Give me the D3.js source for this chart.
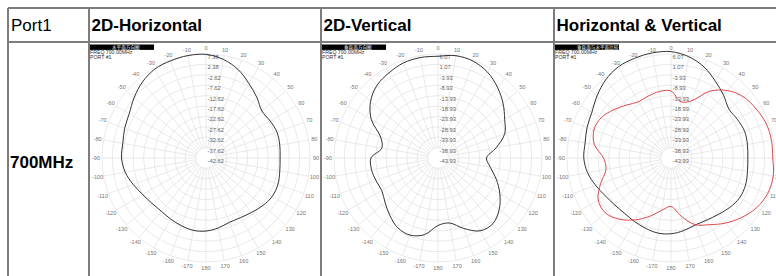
<!DOCTYPE html>
<html>
<head>
<meta charset="utf-8">
<script src="https://cdn.jsdelivr.net/npm/d3@7"></script>
<style>
  html, body { margin: 0; padding: 0; background: #fff; }
  svg { display: block; }
</style>
</head>
<body>
<svg id="chart" width="776" height="276"></svg>
<script>
// ---------- DATA ----------
const headerLabels = ["Port1", "2D-Horizontal", "2D-Vertical", "Horizontal & Vertical"];
const rowLabel = "700MHz";
const plotTitles = ["水平面方向图", "垂直面方向图", "垂直面与水平面比较"];
const freqLabel = "FREQ 700.00MHz";
const portLabel = "PORT #1";

// angle (deg, clockwise from top) for every measured sample
const angles = [0, 10, 20, 30, 40, 50, 60, 70, 80, 90, 100, 110, 120, 130, 140, 150, 160, 170, 180,
                -170, -160, -150, -140, -130, -120, -110, -100, -90, -80, -70, -60, -50, -40, -30, -20, -10];

// horizontal-plane gain (dB)
const horizontalGain = [7.2, 5.5, 2.6, -1.3, -4.6, -7.5, -7.0, -6.3, -6.6, -7.0, -6.6, -5.8, -5.8, -7.0, -8.5, -9.5, -9.7, -8.5, -7.5,
                        -7.3, -8.0, -8.7, -9.2, -8.7, -7.5, -5.4, -3.2, -2.0, -2.0, -1.0, 0.0, 2.5, 5.0, 6.7, 7.1, 7.38];

// vertical-plane gain (dB)
const verticalGain = [5.0, 6.0, 5.6, 3.7, 0.5, -3.1, -6.9, -9.8, -15.5, -20.6, -18.4, -14.1, -9.6, -5.5, -2.8, -3.5, -7.9, -12.2, -11.5,
                      -6.5, -4.5, -5.2, -7.9, -10.7, -12.7, -12.2, -11.5, -11.7, -16.5, -14.6, -6.9, -1.6, 1.7, 3.3, 4.7, 5.1];

// the vertical cut is drawn turned by this many degrees in the comparison plot
const comboVerticalRotation = 90;

// angle tick labels
const angleTicks = [0, 10, 20, 30, 40, 50, 60, 70, 80, 90, 100, 110, 120, 130, 140, 150, 160, 170, 180,
                    -170, -160, -150, -140, -130, -120, -110, -100, -90, -80, -70, -60, -50, -40, -30, -20, -10];

// radial tick labels
const horizontalRingTicks = ["7.38", "2.38", "-2.62", "-7.62", "-12.62", "-17.62", "-22.62", "-27.62", "-32.62", "-37.62", "-42.62"];
const verticalRingTicks = ["6.07", "1.07", "-3.93", "-8.93", "-13.93", "-18.93", "-23.93", "-28.93", "-33.93", "-38.93", "-43.93"];

// ---------- LAYOUT ----------
const svg = d3.select("#chart");
const FONT = "'Liberation Sans', Arial, Helvetica, sans-serif";

const colX = [8, 89, 321, 554, 790];
const rowY = [8, 42, 300];

// table borders
const borderColor = "#7d7d7d";
colX.forEach(x => {
  svg.append("line").attr("x1", x).attr("x2", x).attr("y1", rowY[0]).attr("y2", rowY[2])
    .attr("stroke", borderColor).attr("stroke-width", 2);
});
rowY.forEach(y => {
  svg.append("line").attr("x1", colX[0]).attr("x2", colX[4]).attr("y1", y).attr("y2", y)
    .attr("stroke", borderColor).attr("stroke-width", 2);
});

// header texts
headerLabels.forEach((t, i) => {
  svg.append("text")
    .attr("x", colX[i] + (i === 0 ? 3 : 2.5))
    .attr("y", 31)
    .attr("font-family", FONT)
    .attr("font-size", 17)
    .attr("font-weight", i === 0 ? "normal" : "bold")
    .attr("fill", "#000")
    .text(t);
});
svg.append("text")
  .attr("x", colX[0] + 2).attr("y", 168)
  .attr("font-family", FONT).attr("font-size", 17).attr("font-weight", "bold")
  .attr("fill", "#000").text(rowLabel);

// ---------- POLAR PLOT ----------
const R = 104;
const toRad = d => d * Math.PI / 180;

function polarPlot(cx, cy, title, ringTicks, series) {
  const g = svg.append("g").attr("transform", `translate(${cx},${cy})`);
  const maxV = +ringTicks[0], minV = +ringTicks[ringTicks.length - 1];
  const r = d3.scaleLinear().domain([minV, maxV]).range([0, R]);

  // rings
  const grid = g.append("g").attr("stroke", "#e3e3e3").attr("fill", "none").attr("stroke-width", 0.8);
  ringTicks.forEach(t => {
    const rr = r(+t);
    if (rr > 0.5) grid.append("circle").attr("r", rr);
  });
  // spokes
  const innerR = r(+ringTicks[ringTicks.length - 2]);
  angleTicks.forEach(a => {
    const th = toRad(a);
    grid.append("line")
      .attr("x1", innerR * Math.sin(th)).attr("y1", -innerR * Math.cos(th))
      .attr("x2", R * Math.sin(th)).attr("y2", -R * Math.cos(th));
  });

  // angle labels
  angleTicks.forEach(a => {
    const th = toRad(a), lr = 110;
    g.append("text")
      .attr("x", lr * Math.sin(th)).attr("y", -lr * Math.cos(th))
      .attr("text-anchor", "middle").attr("dominant-baseline", "central")
      .attr("font-family", FONT).attr("font-size", 5.6).attr("fill", "#777")
      .text(a);
  });

  // radial labels
  ringTicks.forEach(t => {
    g.append("text")
      .attr("x", 1.5).attr("y", -r(+t) + 3)
      .attr("dominant-baseline", "central")
      .attr("font-family", FONT).attr("font-size", 5.8).attr("fill", "#666")
      .text(t);
  });

  // curves
  const line = d3.lineRadial()
    .angle(d => toRad(d.a))
    .radius(d => r(d.v))
    .curve(d3.curveCatmullRomClosed.alpha(0.5));
  series.forEach(s => {
    const pts = angles.map((a, i) => ({ a: a + (s.rot || 0), v: s.values[i] }));
    g.append("path").attr("d", line(pts))
      .attr("fill", "none").attr("stroke", s.color).attr("stroke-width", 1);
  });

  // title block
  const tx = cx - 116;
  svg.append("rect").attr("x", tx).attr("y", 44.5).attr("width", 64).attr("height", 5.4).attr("fill", "#000");
  svg.append("text").attr("x", tx + 22).attr("y", 47.4)
    .attr("dominant-baseline", "central")
    .attr("font-family", "'Noto Sans CJK SC', sans-serif").attr("font-size", 4.6).attr("fill", "#fff")
    .text(title);
  svg.append("text").attr("x", tx).attr("y", 54.2)
    .attr("font-family", FONT).attr("font-size", 5.2).attr("fill", "#333").text(freqLabel);
  svg.append("text").attr("x", tx).attr("y", 59)
    .attr("font-family", FONT).attr("font-size", 5.2).attr("fill", "#333").text(portLabel);
}

const cy = 158;
polarPlot(206, cy, plotTitles[0], horizontalRingTicks, [
  { values: horizontalGain, color: "#333" }
]);
polarPlot(438, cy, plotTitles[1], verticalRingTicks, [
  { values: verticalGain, color: "#333" }
]);
polarPlot(671, cy, plotTitles[2], verticalRingTicks, [
  { values: horizontalGain, color: "#333" },
  { values: verticalGain, color: "#e04848", rot: comboVerticalRotation }
]);
</script>
</body>
</html>
